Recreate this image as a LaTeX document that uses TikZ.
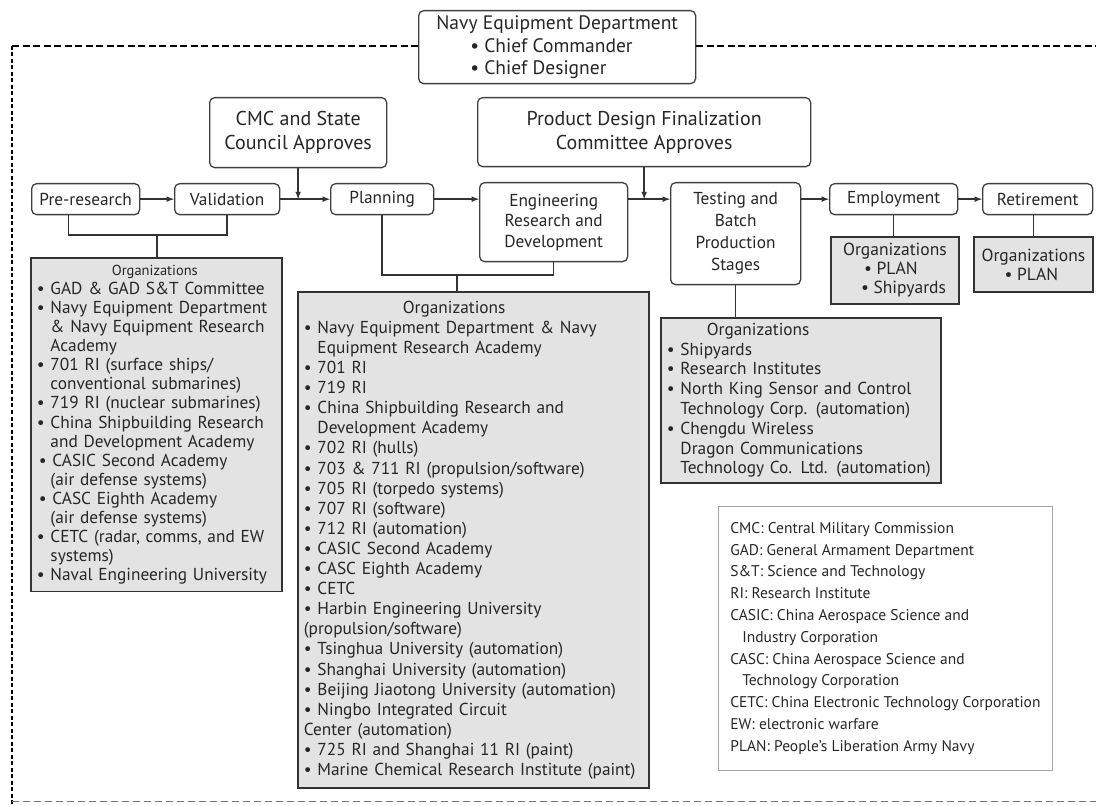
\documentclass[tikz,border=0pt]{standalone}
\usepackage{fontspec}
\setmainfont{PT Sans}
\usepackage{tikz}
\usetikzlibrary{arrows,positioning,calc}

\newcommand{\cont}{\phantom{•~}}

\begin{document}
\begin{tikzpicture}[x=1pt, y=-1pt, >=latex,
  every node/.style={text=black!85},
  stagebox/.style={draw=black!75, line width=1.3pt, rounded corners=5pt, fill=white, align=center, anchor=north west, inner sep=1pt, font=\fontsize{17.3}{20.5}\selectfont},
  titlebox/.style={stagebox, font=\fontsize{20}{24}\selectfont},
  orgbox/.style={draw=black!80, line width=1.8pt, fill=black!11, align=left, anchor=north west, inner xsep=6pt, inner ysep=5pt, font=\fontsize{17.3}{20.1}\selectfont},
  keybox/.style={draw=black!35, line width=0.8pt, align=left, anchor=north west, inner sep=6pt, font=\fontsize{15.5}{21.8}\selectfont},
  link/.style={draw=black!80, line width=1.5pt},
  flow/.style={link, ->},
  topdash/.style={line width=2.6pt, dash pattern=on 7pt off 3.5pt},
  sidedash/.style={line width=2.8pt, dash pattern=on 4pt off 2.5pt},
  footdash/.style={draw=black!55, line width=1pt, dash pattern=on 7pt off 4pt}]
\useasboundingbox (0,0) rectangle (1096,805);
\coordinate (ftl) at (12,46);

\node[titlebox, align=left, minimum width=277pt, minimum height=73pt, font=\fontsize{19.5}{22.5}\selectfont] (navy) at (418,10)
  {Navy Equipment Department\\\hspace*{34pt}• Chief Commander\\\hspace*{34pt}• Chief Designer};
\node[titlebox, minimum width=177pt, minimum height=70pt] (cmc) at (209,97) {CMC and State\\Council Approves};
\node[titlebox, minimum width=333pt, minimum height=69pt] (pdf) at (477,97) {Product Design Finalization\\Committee Approves};

\node[stagebox, minimum width=108pt, minimum height=31pt] (pre) at (31,183) {Pre-research};
\node[stagebox, minimum width=105pt, minimum height=31pt] (val) at (174,183) {Validation};
\node[stagebox, minimum width=103pt, minimum height=31pt] (plan) at (330,183) {Planning};
\node[stagebox, minimum width=148pt, minimum height=79pt] (eng) at (479,182) {Engineering\\Research and\\Development};
\node[stagebox, minimum width=130pt, minimum height=102pt, font=\fontsize{17.3}{22}\selectfont] (test) at (670,182) {Testing and\\Batch\\Production\\Stages};
\node[stagebox, minimum width=128pt, minimum height=31pt] (emp) at (829,183) {Employment};
\node[stagebox, minimum width=110pt, minimum height=31pt] (ret) at (982,183) {Retirement};

\node[orgbox, text width=239pt, inner ysep=7pt, font=\fontsize{17.3}{19.1}\selectfont] (lorg) at (30,257)
  {\hspace*{75pt}{\fontsize{14.5}{19}\selectfont Organizations}\\
   • GAD \& GAD S\&T Committee\\
   • Navy Equipment Department\\
   \cont\& Navy Equipment Research\\
   \cont Academy\\
   • 701 RI (surface ships/\\
   \cont conventional submarines)\\
   • 719 RI (nuclear submarines)\\
   • China Shipbuilding Research\\
   \cont and Development Academy\\
   \hspace*{2pt}• CASIC Second Academy\\
   \cont(air defense systems)\\
   \hspace*{2pt}• CASC Eighth Academy\\
   \cont(air defense systems)\\
   • CETC (radar, comms, and EW\\
   \cont systems)\\
   • Naval Engineering University};
\node[orgbox, text width=339pt, inner ysep=9pt] (morg) at (297,291)
  {\hspace*{99pt}Organizations\\
   • Navy Equipment Department \& Navy\\
   \cont Equipment Research Academy\\
   • 701 RI\\
   • 719 RI\\
   • China Shipbuilding Research and\\
   \cont Development Academy\\
   • 702 RI (hulls)\\
   • 703 \& 711 RI (propulsion/software)\\
   • 705 RI (torpedo systems)\\
   • 707 RI (software)\\
   • 712 RI (automation)\\
   • CASIC Second Academy\\
   • CASC Eighth Academy\\
   • CETC\\
   • Harbin Engineering University\\
   (propulsion/software)\\
   • Tsinghua University (automation)\\
   • Shanghai University (automation)\\
   • Beijing Jiaotong University (automation)\\
   • Ningbo Integrated Circuit\\
   Center (automation)\\
   • 725 RI and Shanghai 11 RI (paint)\\
   • Marine Chemical Research Institute (paint)};
\node[orgbox, text width=268pt, font=\fontsize{17.3}{19.8}\selectfont] (torg) at (660,317)
  {\hspace*{40pt}Organizations\\
   • Shipyards\\
   • Research Institutes\\
   • North King Sensor and Control\\
   \cont Technology Corp. (automation)\\
   • Chengdu Wireless\\
   \cont Dragon Communications\\
   \cont Technology Co. Ltd. (automation)};
\node[orgbox, inner xsep=2pt, minimum width=128pt, minimum height=67pt, font=\fontsize{17.5}{19}\selectfont] (eorg) at (830,236)
  {Organizations\\\hspace*{21pt}• PLAN\\\hspace*{18pt}• Shipyards};
\node[orgbox, inner xsep=2pt, minimum width=119pt, minimum height=55pt, font=\fontsize{17.5}{19}\selectfont] (rorg) at (973,236)
  {Organizations\\\hspace*{23pt}• PLAN};

\node[keybox, minimum width=334pt, minimum height=264pt] (key) at (718,506)
  {CMC: Central Military Commission\\
   GAD: General Armament Department\\
   S\&T: Science and Technology\\
   RI: Research Institute\\
   CASIC: China Aerospace Science and\\
   \hspace*{12pt}Industry Corporation\\
   CASC: China Aerospace Science and\\
   \hspace*{12pt}Technology Corporation\\
   CETC: China Electronic Technology Corporation\\
   EW: electronic warfare\\
   PLAN: People's Liberation Army Navy};

\draw[flow] (pre) -- (val);
\draw[flow] (val) -- (plan);
\draw[flow] (plan) -- (plan -| eng.west);
\draw[flow] (plan -| eng.east) -- (plan -| test.west);
\draw[flow] (plan -| test.east) -- (emp.west);
\draw[flow] (emp) -- (ret);
\draw[flow] (cmc) -- (cmc |- plan);
\draw[flow] (pdf) -- (pdf |- plan);

\coordinate (b1) at (157,235);
\coordinate (b2) at (457,275);
\draw[link] ([xshift=-17pt]pre.south) |- (b1) -| (val.south);
\draw[link] (b1) -- (b1 |- lorg.north);
\draw[link] (plan.south) |- (b2) -| (eng.south);
\draw[link] (b2) -- (b2 |- morg.north);
\draw[link] (test.south) -- (test.south |- torg.north);
\draw[link] (emp.south) -- (emp.south |- eorg.north);
\draw[link] (rorg.north) -- (rorg.north |- ret.south);

\draw[topdash] (ftl) -- (ftl -| navy.west);
\draw[topdash] (ftl -| navy.east) -- (1096,46);
\draw[sidedash] (ftl) -- (12,805);
\draw[footdash] (12,801) -- (1096,801);
\end{tikzpicture}
\end{document}
